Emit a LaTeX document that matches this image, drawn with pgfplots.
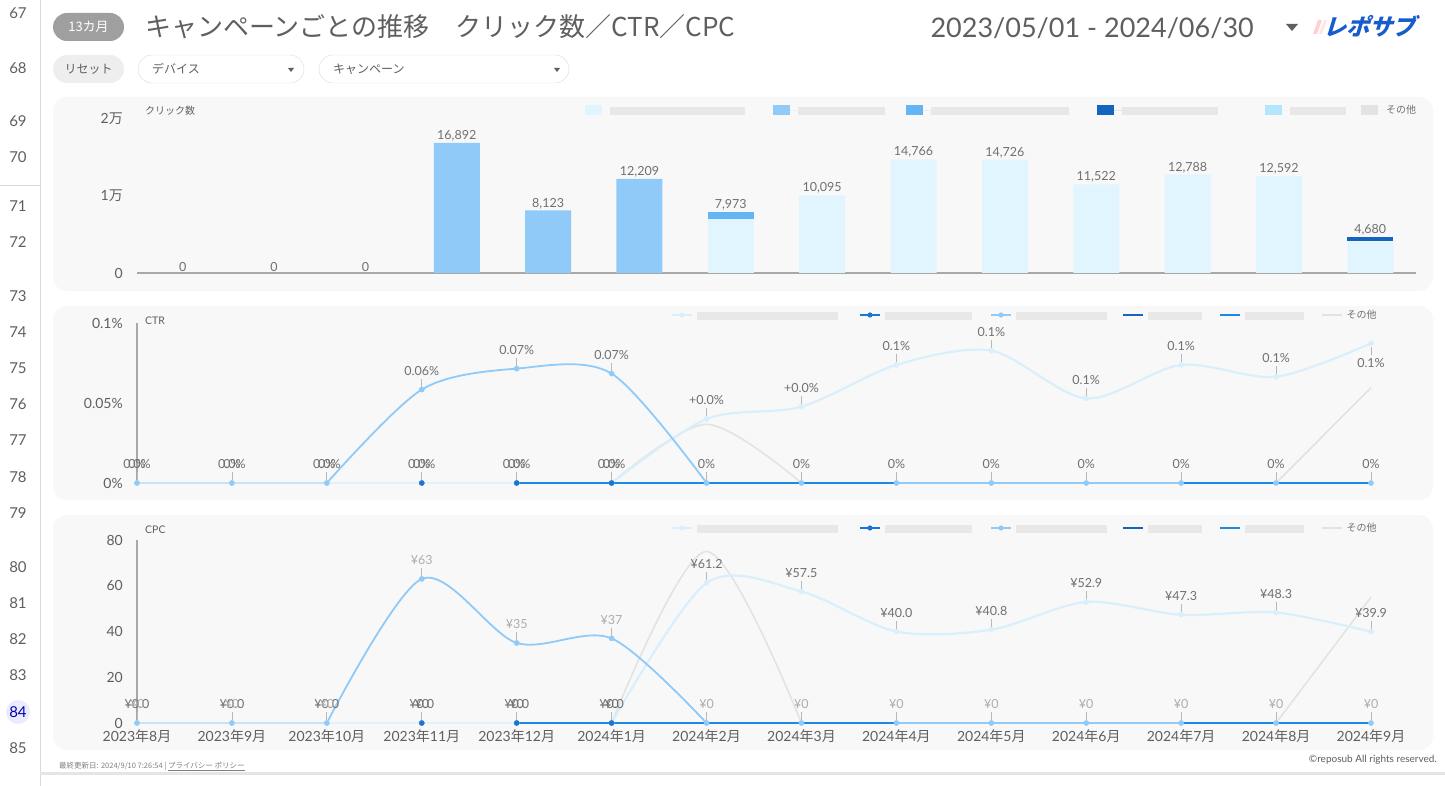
\documentclass[border=0pt]{standalone}
\usepackage{fontspec}
\usepackage{pgfplots}
\usepackage{pgfplotstable}
\pgfplotsset{compat=1.18}
\setmainfont{Lato}
\newfontfamily\jp{Noto Sans CJK JP}

\definecolor{cA}{HTML}{E1F5FE}
\definecolor{cAl}{HTML}{D9F0FC}
\definecolor{cB}{HTML}{90CAF9}
\definecolor{cC}{HTML}{64B5F6}
\definecolor{cD}{HTML}{1565C0}
\definecolor{cE}{HTML}{B3E5FC}
\definecolor{cF}{HTML}{E3E3E3}
\definecolor{cDot}{HTML}{1976D2}
\definecolor{cBlue}{HTML}{1E88E5}
\definecolor{panel}{HTML}{F8F8F8}
\definecolor{txt}{HTML}{5F5F5F}
\definecolor{lbl}{HTML}{707070}
\definecolor{lbllight}{HTML}{ADADAD}
\definecolor{pin}{HTML}{B8B8B8}
\definecolor{blurc}{HTML}{E8E8E8}
\definecolor{axisg}{HTML}{A8A8A8}

\newcommand{\ym}[2]{#1{\jp 年}#2{\jp 月}}
\newcommand{\blur}[1]{\textcolor{blurc}{\rule[-3pt]{#1pt}{8pt}}}
\newcommand{\fs}[1]{\fontsize{#1}{#1}\selectfont}

\pgfplotsset{
  sqleg/.style={legend image code/.code={\fill[draw=none] (0pt,-5pt) rectangle (17pt,5pt); \path[draw=none] (0pt,0pt) -- (25pt,0pt);}},
  lnleg/.style={legend image code/.code={\draw (0pt,0pt) -- (20pt,0pt); \path[draw=none] (0pt,0pt) -- (25pt,0pt);}},
  mkleg/.style={legend image code/.code={\draw (0pt,0pt) -- (20pt,0pt); \fill[draw=none] (10pt,0pt) circle (2.6pt); \path[draw=none] (0pt,0pt) -- (25pt,0pt);}},
  lab/.style={point meta=explicit symbolic,
    nodes near coords={\pgfplotspointmeta\\[-1pt]{\color{pin}\rule{0.8pt}{8pt}}},
    every node near coord/.append style={font=\fs{12.5}, text=lbl, align=center, anchor=south, inner sep=0pt, yshift=2.5pt}},
  labdown/.style={point meta=explicit symbolic,
    nodes near coords={{\color{pin}\rule{0.8pt}{8pt}}\\[0pt]\pgfplotspointmeta},
    every node near coord/.append style={font=\fs{12.5}, text=lbl, align=center, anchor=north, inner sep=0pt, yshift=-3pt}},
  mk/.style={only marks, mark=*, mark size=2.6pt},
  legbox/.style={legend style={draw=none, fill=none, inner sep=0pt, outer sep=0pt, anchor=west,
      legend columns=-1, nodes={inner sep=0pt}, font=\fs{10}, text=lbl},
    legend cell align=left},
  linepanel/.style={scale only axis, clip=false, xmin=0, xmax=13, ymin=0,
    axis lines*=left, x axis line style={draw=none}, y axis line style={axisg, line width=1.3pt},
    major tick length=0pt, xtick=\empty,
    yticklabel style={font=\fs{14}, text=txt, inner sep=0pt, xshift=-14pt}, legbox},
}

\pgfplotstableread{
x  A      B      C    D
0  0      0      0    0
1  0      0      0    0
2  0      0      0    0
3  0      16892  0    0
4  0      8123   0    0
5  0      12209  0    0
6  7000   0      973  0
7  10095  0      0    0
8  14766  0      0    0
9  14726  0      0    0
10 11522  0      0    0
11 12788  0      0    0
12 12592  0      0    0
13 4100   0      0    580
}\clicks

\pgfplotstableread{
x  A      Al      B       Bl      C    Cl   D    E    F
0  0      0.0\%   0       0\%     nan  -    nan  nan  nan
1  0      0.0\%   0       0\%     nan  -    nan  nan  nan
2  0      0.0\%   0       0\%     nan  -    nan  nan  nan
3  0      0.0\%   0.0584  0.06\%  0    0\%  nan  nan  nan
4  0      0.0\%   0.0715  0.07\%  0    0\%  0    0    nan
5  0      0.0\%   0.0684  0.07\%  0    0\%  0    0    0
6  0.0400 +0.0\%  0       0\%     nan  -    0    0    0.0367
7  0.0477 +0.0\%  0       0\%     nan  -    0    0    0
8  0.0738 0.1\%   0       0\%     nan  -    0    0    0
9  0.0827 0.1\%   0       0\%     nan  -    0    nan  0
10 0.0529 0.1\%   0       0\%     nan  -    0    nan  0
11 0.0738 0.1\%   0       0\%     nan  -    0    0    0
12 0.0664 0.1\%   0       0\%     nan  -    0    0    0
13 0.0873 0.1\%   0       0\%     nan  -    0    0    0.0596
}\ctr

\pgfplotstableread{
x  A     Al     B   Bl    C    Cl   D    E    F
0  0     ¥0.0   0   ¥0    nan  -    nan  nan  nan
1  0     ¥0.0   0   ¥0    nan  -    nan  nan  nan
2  0     ¥0.0   0   ¥0    nan  -    nan  nan  nan
3  0     ¥0.0   63  ¥63   0    ¥0   nan  nan  nan
4  0     ¥0.0   35  ¥35   0    ¥0   0    0    nan
5  0     ¥0.0   37  ¥37   0    ¥0   0    0    0
6  61.2  ¥61.2  0   ¥0    nan  -    0    0    75
7  57.5  ¥57.5  0   ¥0    nan  -    0    0    0
8  40.0  ¥40.0  0   ¥0    nan  -    0    0    0
9  40.8  ¥40.8  0   ¥0    nan  -    0    nan  0
10 52.9  ¥52.9  0   ¥0    nan  -    0    nan  0
11 47.3  ¥47.3  0   ¥0    nan  -    0    0    0
12 48.3  ¥48.3  0   ¥0    nan  -    0    0    0
13 39.9  ¥39.9  0   ¥0    nan  -    0    0    55
}\cpc

\begin{document}
\begin{tikzpicture}[x=1pt,y=1pt]
\fill[white] (0,0) rectangle (1445,-786);
\useasboundingbox (0,0) rectangle (1445,-786);

% spreadsheet gutter
\draw[gray!30, line width=0.8pt] (40,0) -- (40,-786);
\draw[gray!30, line width=0.8pt] (0,-185) -- (40,-185);
\foreach \n/\y in {67/13,68/68,69/121,70/157,71/206,72/242,73/296,74/332,75/368,76/404,77/440,78/477,79/513,80/567,81/603,82/639,83/675,85/748}
  \node[font=\fs{15}, text=txt] at (18,-\y) {\n};
\fill[blue!8] (18,-712) circle (12);
\node[font=\fs{15}, text=blue!70!black] at (18,-712) {84};

% header
\node[fill=gray!75, rounded corners=14pt, minimum width=71pt, minimum height=28pt, inner sep=0pt,
  text=white, font=\jp\fs{13}] at (88.5,-27) {13カ月};
\node[anchor=west, inner sep=0pt, font=\jp\fs{26}, text=txt] at (145,-27) {キャンペーンごとの推移　クリック数／CTR／CPC};
\node[anchor=east, inner sep=0pt, font=\fs{27}, text=txt] at (1254,-28) {2023/05/01 - 2024/06/30};
\fill[txt] (1286,-24) -- (1298,-24) -- (1292,-31) -- cycle;
\fill[pink!70] (1313,-34) -- (1318,-20) -- (1322,-20) -- (1317,-34) -- cycle;
\fill[pink!40] (1319,-34) -- (1324,-20) -- (1327,-20) -- (1322,-34) -- cycle;
\node[anchor=west, inner sep=0pt, xslant=0.3, font=\jp\bfseries\fs{23}, text={rgb,255:red,22;green,92;blue,205}] at (1326,-26) {レポサブ};

\node[fill=gray!13, rounded corners=14pt, minimum width=71pt, minimum height=28pt, inner sep=0pt,
  text=txt, font=\jp\fs{12}] at (88.5,-69) {リセット};
\draw[gray!30, fill=white, rounded corners=14pt] (138,-55) rectangle (304,-83);
\node[anchor=west, inner sep=0pt, font=\jp\fs{12}, text=txt] at (152,-69) {デバイス};
\fill[txt] (288,-68) -- (294,-68) -- (291,-72) -- cycle;
\draw[gray!30, fill=white, rounded corners=14pt] (319,-55) rectangle (569,-83);
\node[anchor=west, inner sep=0pt, font=\jp\fs{12}, text=txt] at (333,-69) {キャンペーン};
\fill[txt] (554,-68) -- (560,-68) -- (557,-72) -- cycle;

% panels
\fill[panel, rounded corners=14pt] (53,-97) rectangle (1433,-291);
\fill[panel, rounded corners=14pt] (53,-306) rectangle (1433,-500);
\fill[panel, rounded corners=14pt] (53,-515) rectangle (1433,-750);
\node[anchor=west, inner sep=0pt, font=\jp\fs{10}, text=txt] at (145,-111) {クリック数};
\node[anchor=west, inner sep=0pt, font=\fs{10.5}, text=txt] at (145,-321) {CTR};
\node[anchor=west, inner sep=0pt, font=\fs{10.5}, text=txt] at (145,-530) {CPC};

% clicks
\begin{axis}[at={(137pt,-273pt)}, anchor=south west, scale only axis, width=1279pt, height=154pt,
  xmin=-0.5, xmax=13.5, ymin=0, ymax=20000, clip=false, ybar stacked, bar width=46pt,
  axis lines*=left, y axis line style={draw=none}, x axis line style={axisg, line width=2pt},
  xtick=\empty, ytick={0,10000,20000}, yticklabels={0,1{\jp 万},2{\jp 万}}, scaled y ticks=false,
  major tick length=0pt, yticklabel style={font=\fs{14}, text=txt, inner sep=0pt, xshift=-14pt}]
\addplot[fill=cA, draw=none] table[x=x, y=A] {\clicks};
\addplot[fill=cB, draw=none] table[x=x, y=B] {\clicks};
\addplot[fill=cC, draw=none] table[x=x, y=C] {\clicks};
\addplot[fill=cD, draw=none] table[x=x, y=D] {\clicks};
\end{axis}
\begin{axis}[at={(137pt,-273pt)}, anchor=south west, scale only axis, width=1279pt, height=154pt,
  xmin=-0.5, xmax=13.5, ymin=0, ymax=20000, clip=false, hide axis, legbox,
  legend style={at={(0.3503,1.0584)}},
  every node near coord/.append style={font=\fs{12.5}, text=lbl, anchor=south, inner sep=1.5pt},
  /pgf/number format/.cd, fixed, precision=0, 1000 sep={,}, assume math mode=true]
\addplot[draw=none, mark=none, nodes near coords, forget plot]
  table[x=x, y expr=\thisrow{A}+\thisrow{B}+\thisrow{C}+\thisrow{D}] {\clicks};
\addlegendimage{sqleg, fill=cA}\addlegendentry{\makebox[163pt][l]{\blur{135}}}
\addlegendimage{sqleg, fill=cB}\addlegendentry{\makebox[108pt][l]{\blur{87}}}
\addlegendimage{sqleg, fill=cC}\addlegendentry{\makebox[166pt][l]{\blur{138}}}
\addlegendimage{sqleg, fill=cD}\addlegendentry{\makebox[143pt][l]{\blur{96}}}
\addlegendimage{sqleg, fill=cE}\addlegendentry{\makebox[71pt][l]{\blur{56}}}
\addlegendimage{sqleg, fill=cF}\addlegendentry{{\jp その他}}
\end{axis}

% CTR
\begin{axis}[linepanel, at={(137pt,-483pt)}, anchor=south west, width=1234pt, height=160pt,
  ymax=0.1, ytick={0,0.05,0.1}, yticklabels={0\%,0.05\%,0.1\%},
  legend style={at={(0.4327,1.05)}}]
\addplot[cF, line width=1.6pt, smooth, restrict x to domain=5:7, forget plot] table[x=x, y=F] {\ctr};
\addplot[cF, line width=1.6pt, restrict x to domain=7:12, forget plot] table[x=x, y=F] {\ctr};
\addplot[cF, line width=1.6pt, restrict x to domain=12:13, forget plot] table[x=x, y=F] {\ctr};
\addplot[cD, line width=1.4pt, forget plot] table[x=x, y=D] {\ctr};
\addplot[cB, line width=1.8pt, restrict x to domain=0:2, forget plot] table[x=x, y=B] {\ctr};
\addplot[cAl, line width=2.2pt, opacity=0.7, restrict x to domain=0:5, forget plot] table[x=x, y=A] {\ctr};
\addplot[cAl, line width=2.2pt, smooth, restrict x to domain=5:13, forget plot] table[x=x, y=A] {\ctr};
\addplot[cB, line width=1.8pt, smooth, restrict x to domain=2:6, forget plot] table[x=x, y=B] {\ctr};
\addplot[cB, line width=1.8pt, restrict x to domain=6:13, forget plot] table[x=x, y=B] {\ctr};
\addplot[cBlue, line width=2pt, unbounded coords=jump, forget plot] table[x=x, y=E] {\ctr};
\addplot[cAl, mk, lab, restrict x to domain=0:12, forget plot] table[x=x, y=A, meta=Al] {\ctr};
\addplot[cAl, mk, labdown, restrict x to domain=13:13, forget plot] table[x=x, y=A, meta=Al] {\ctr};
\addplot[cB, mk, lab, forget plot] table[x=x, y=B, meta=Bl] {\ctr};
\addplot[cDot, mk, lab, forget plot] table[x=x, y=C, meta=Cl] {\ctr};
\addlegendimage{mkleg, cAl, line width=2pt}\addlegendentry{\makebox[162pt][l]{\blur{141}}}
\addlegendimage{mkleg, cDot, line width=2pt}\addlegendentry{\makebox[105pt][l]{\blur{87}}}
\addlegendimage{mkleg, cB, line width=2pt}\addlegendentry{\makebox[106pt][l]{\blur{91}}}
\addlegendimage{lnleg, cD, line width=2pt}\addlegendentry{\makebox[71pt][l]{\blur{54}}}
\addlegendimage{lnleg, cBlue, line width=2pt}\addlegendentry{\makebox[76pt][l]{\blur{59}}}
\addlegendimage{lnleg, cF, line width=1.5pt}\addlegendentry{{\jp その他}}
\end{axis}

% CPC
\begin{axis}[linepanel, at={(137pt,-723pt)}, anchor=south west, width=1234pt, height=183pt,
  ymax=80, ytick={0,20,40,60,80}, yticklabels={0,20,40,60,80},
  xtick={0,...,13}, xticklabels={\ym{2023}{8},\ym{2023}{9},\ym{2023}{10},\ym{2023}{11},\ym{2023}{12},
    \ym{2024}{1},\ym{2024}{2},\ym{2024}{3},\ym{2024}{4},\ym{2024}{5},\ym{2024}{6},\ym{2024}{7},\ym{2024}{8},\ym{2024}{9}},
  xticklabel style={font=\fs{14}, text=txt, inner sep=0pt, yshift=-6pt},
  legend style={at={(0.4327,1.0656)}}]
\addplot[cF, line width=1.6pt, smooth, restrict x to domain=5:7, forget plot] table[x=x, y=F] {\cpc};
\addplot[cF, line width=1.6pt, restrict x to domain=7:12, forget plot] table[x=x, y=F] {\cpc};
\addplot[cF, line width=1.6pt, restrict x to domain=12:13, forget plot] table[x=x, y=F] {\cpc};
\addplot[cD, line width=1.4pt, forget plot] table[x=x, y=D] {\cpc};
\addplot[cB, line width=1.8pt, restrict x to domain=0:2, forget plot] table[x=x, y=B] {\cpc};
\addplot[cAl, line width=2.2pt, opacity=0.7, restrict x to domain=0:5, forget plot] table[x=x, y=A] {\cpc};
\addplot[cAl, line width=2.2pt, smooth, restrict x to domain=5:13, forget plot] table[x=x, y=A] {\cpc};
\addplot[cB, line width=1.8pt, smooth, restrict x to domain=2:6, forget plot] table[x=x, y=B] {\cpc};
\addplot[cB, line width=1.8pt, restrict x to domain=6:13, forget plot] table[x=x, y=B] {\cpc};
\addplot[cBlue, line width=2pt, unbounded coords=jump, forget plot] table[x=x, y=E] {\cpc};
\addplot[cAl, mk, lab, forget plot] table[x=x, y=A, meta=Al] {\cpc};
\addplot[cB, mk, lab, every node near coord/.append style={text=lbllight}, forget plot] table[x=x, y=B, meta=Bl] {\cpc};
\addplot[cDot, mk, lab, forget plot] table[x=x, y=C, meta=Cl] {\cpc};
\addlegendimage{mkleg, cAl, line width=2pt}\addlegendentry{\makebox[162pt][l]{\blur{141}}}
\addlegendimage{mkleg, cDot, line width=2pt}\addlegendentry{\makebox[105pt][l]{\blur{87}}}
\addlegendimage{mkleg, cB, line width=2pt}\addlegendentry{\makebox[106pt][l]{\blur{91}}}
\addlegendimage{lnleg, cD, line width=2pt}\addlegendentry{\makebox[71pt][l]{\blur{54}}}
\addlegendimage{lnleg, cBlue, line width=2pt}\addlegendentry{\makebox[76pt][l]{\blur{59}}}
\addlegendimage{lnleg, cF, line width=1.5pt}\addlegendentry{{\jp その他}}
\end{axis}

% footer
\node[anchor=west, inner sep=0pt, font=\jp\fs{7.5}, text=gray] at (59,-766) {最終更新日: 2024/9/10 7:26:54 | \underline{プライバシー ポリシー}};
\node[anchor=east, inner sep=0pt, font=\fs{10}, text=txt] at (1437,-760) {©reposub All rights reserved.};
\fill[gray!20] (40,-772) rectangle (1445,-775);
\end{tikzpicture}
\end{document}
